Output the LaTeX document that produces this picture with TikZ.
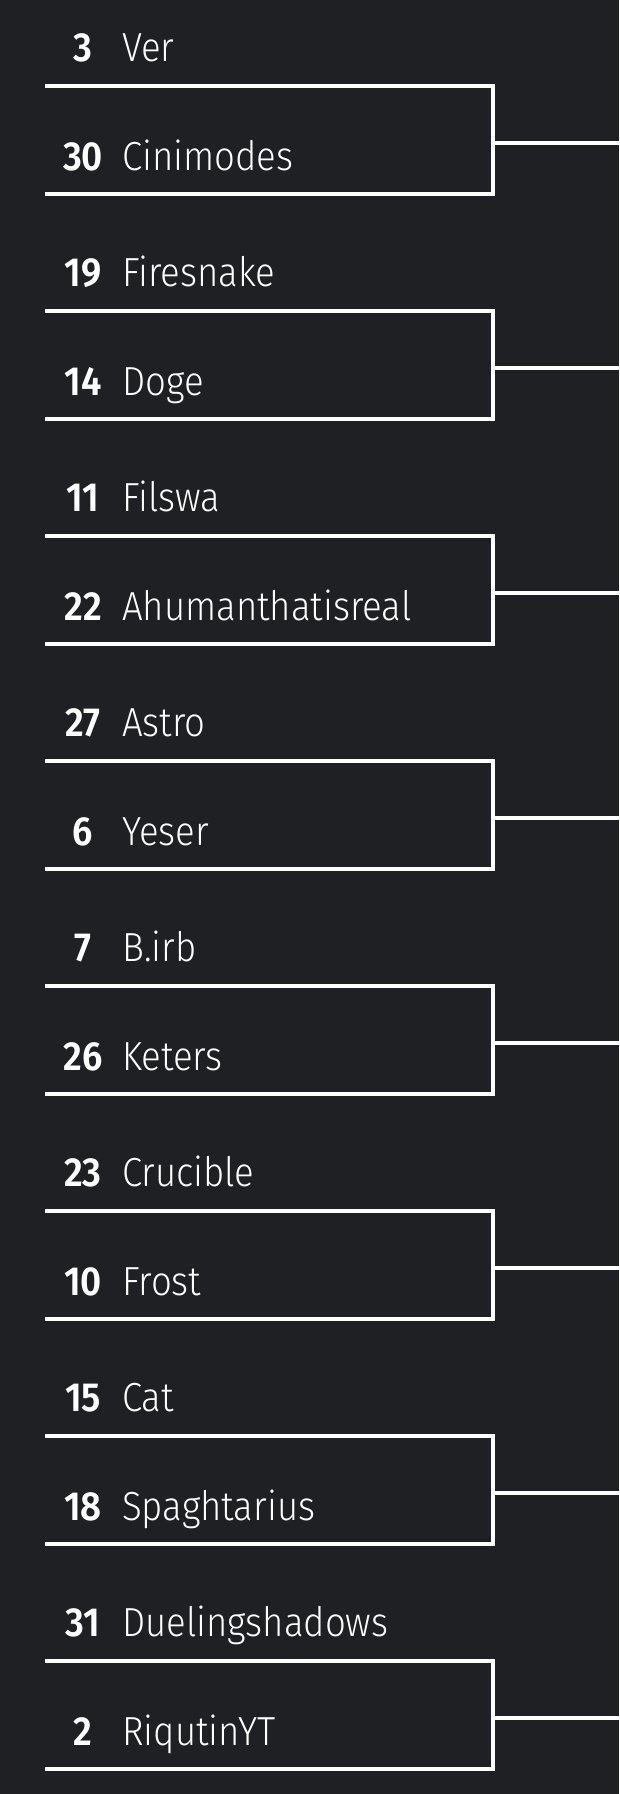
\documentclass[tikz,border=0pt]{standalone}
\usepackage{fontspec}
\setmainfont{Fira Sans}[UprightFont=* Light, BoldFont=* SemiBold, FakeStretch=0.9]
\definecolor{bg}{RGB}{31,32,36}
\begin{document}
\begin{tikzpicture}[x=1pt,y=-1pt,
  bracket/.style={draw=white,line width=4pt},
  seed/.style={anchor=base,inner sep=0pt,text=white,font=\fontsize{40.6}{40.6}\selectfont\bfseries},
  pname/.style={anchor=base west,inner sep=0pt,text=white,font=\fontsize{40.6}{40.6}\selectfont}]
\fill[bg] (0,0) rectangle (619,1794);
\useasboundingbox (0,0) rectangle (619,1794);
\foreach \i/\sa/\na/\sb/\nb in {
  0/3/Ver/30/Cinimodes,
  1/19/Firesnake/14/Doge,
  2/11/Filswa/22/Ahumanthatisreal,
  3/27/Astro/6/Yeser,
  4/7/B.irb/26/Keters,
  5/23/Crucible/10/Frost,
  6/15/Cat/18/Spaghtarius,
  7/31/Duelingshadows/2/RiqutinYT}{
  \pgfmathsetmacro\yt{86.3+225*\i}
  \pgfmathsetmacro\yb{194.3+225*\i}
  \pgfmathsetmacro\yc{142.8+225*\i}
  \node[seed] (sa\i) at (83,\yt-24.5) {\sa};
  \node[pname] (na\i) at (122,\yt-24.5) {\na};
  \node[seed] (sb\i) at (83,\yb-24) {\sb};
  \node[pname] (nb\i) at (122,\yb-24) {\nb};
  \coordinate (tl\i) at (45,\yt);
  \coordinate (tr\i) at (493,\yt);
  \coordinate (br\i) at (493,\yb);
  \coordinate (bl\i) at (45,\yb);
  \coordinate (m\i) at (493,\yc);
  \coordinate (e\i) at (619,\yc);
  \draw[bracket] (tl\i) -- (tr\i) -- (br\i) -- (bl\i);
  \draw[bracket] (m\i) -- (e\i);
}
\end{tikzpicture}
\end{document}
